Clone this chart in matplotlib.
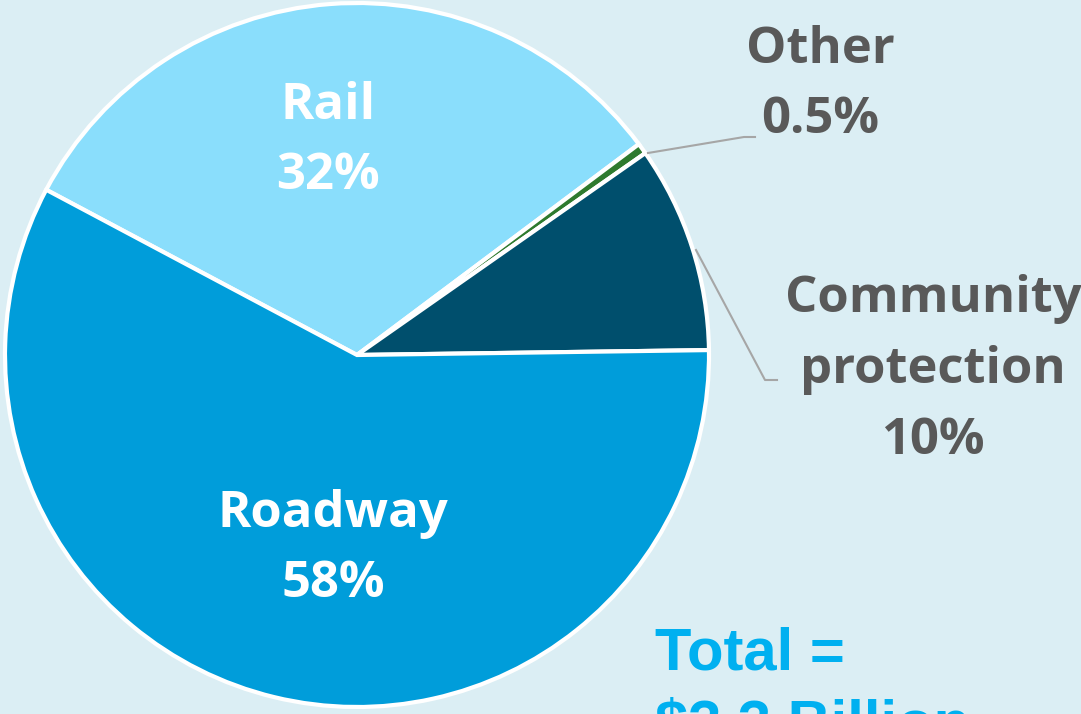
import matplotlib.pyplot as plt

# slice data, clockwise starting from the Rail slice
categories = ["Rail", "Other", "Community\nprotection", "Roadway"]
shares = [32, 0.5, 9.5, 58]
share_labels = ["32%", "0.5%", "10%", "58%"]
colors = ["#8ADEFC", "#2E7A2E", "#004F6D", "#009DDA"]

BG = "#DBEEF4"
GREY = "#595959"

fig = plt.figure(figsize=(10.81, 7.14), dpi=100, facecolor=BG)
ax = fig.add_axes([0, 0, 1, 1])
ax.set_facecolor(BG)

cx, cy, r = 357, 714 - 355, 352
ax.pie(shares, colors=colors, startangle=152, counterclock=False,
       center=(cx, cy), radius=r,
       wedgeprops=dict(edgecolor="white", linewidth=3))
ax.set_xlim(0, 1081)
ax.set_ylim(0, 714)
ax.set_aspect("auto")
ax.axis("off")

bold = dict(family="Open Sans", fontweight="bold", fontsize=36.5,
            ha="center", va="center", linespacing=1.55)

# labels inside the big slices
ax.text(328, 714 - 141, f"{categories[0]}\n{share_labels[0]}", color="white", **bold)
ax.text(333, 714 - 549, f"{categories[3]}\n{share_labels[3]}", color="white", **bold)

# outside labels with leader lines
ax.text(820, 714 - 85, f"{categories[1]}\n{share_labels[1]}", color=GREY, **bold)
ax.text(933, 714 - 370, f"{categories[2]}\n{share_labels[2]}", color=GREY, **bold)

ax.plot([648, 744, 755], [714 - 153, 714 - 137, 714 - 137], color="#A6A6A6", lw=1.5)
ax.plot([696, 765, 777], [714 - 250, 714 - 380, 714 - 380], color="#A6A6A6", lw=1.5)

# total, partly cut at the bottom edge as in the source slide
ax.text(655, 714 - 627, "Total =\n$3.3 Billion", color="#00B0F0",
        family="Liberation Sans", fontweight="bold", fontsize=43,
        ha="left", va="top", linespacing=1.4, clip_on=False)

fig.savefig("out.png", dpi=100, facecolor=BG)
